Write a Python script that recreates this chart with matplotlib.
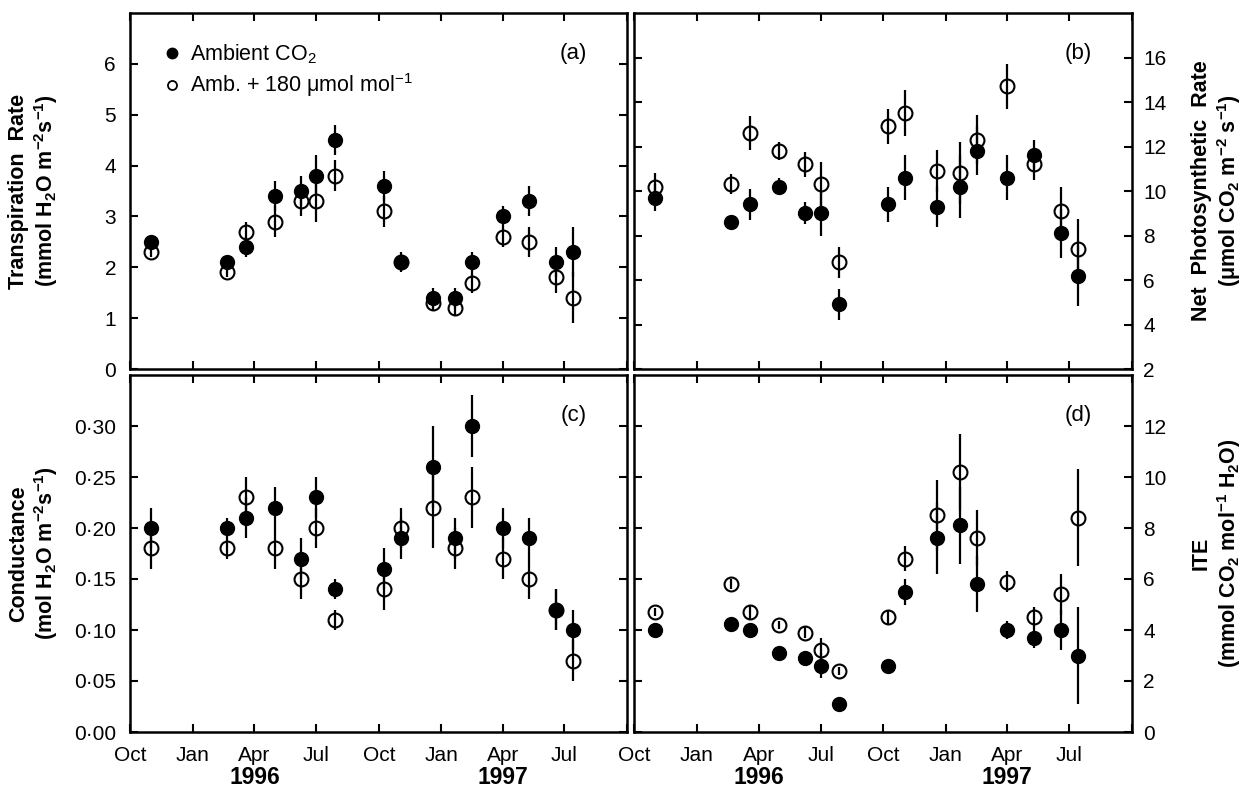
import matplotlib
matplotlib.use('Agg')
import matplotlib.pyplot as plt
import matplotlib.dates as mdates
from matplotlib.lines import Line2D
from matplotlib.ticker import FuncFormatter
import numpy as np

plt.rcParams['font.family'] = ['Liberation Sans', 'DejaVu Sans']
plt.rcParams['mathtext.default'] = 'regular'

# sampling dates (Oct 1995 - Jul 1997)
dates = ['1995-11-01', '1996-02-20', '1996-03-20', '1996-05-01', '1996-06-08',
         '1996-07-01', '1996-07-28', '1996-10-08', '1996-11-02', '1996-12-19',
         '1997-01-21', '1997-02-15', '1997-04-01', '1997-05-10', '1997-06-19',
         '1997-07-14']

# (a) transpiration rate
trans_amb = [2.5, 2.1, 2.4, 3.4, 3.5, 3.8, 4.5, 3.6, 2.1, 1.4, 1.4, 2.1, 3.0, 3.3, 2.1, 2.3]
trans_amb_err = [0.05, 0.1, 0.2, 0.3, 0.3, 0.4, 0.3, 0.3, 0.2, 0.2, 0.2, 0.2, 0.2, 0.3, 0.3, 0.5]
trans_elev = [2.3, 1.9, 2.7, 2.9, 3.3, 3.3, 3.8, 3.1, 2.1, 1.3, 1.2, 1.7, 2.6, 2.5, 1.8, 1.4]
trans_elev_err = [0.1, 0.1, 0.2, 0.3, 0.3, 0.4, 0.3, 0.3, 0.1, 0.15, 0.15, 0.2, 0.2, 0.3, 0.3, 0.5]

# (b) net photosynthetic rate
photo_amb = [9.7, 8.6, 9.4, 10.2, 9.0, 9.0, 4.9, 9.4, 10.6, 9.3, 10.2, 11.8, 10.6, 11.6, 8.1, 6.2]
photo_amb_err = [0.6, 0.3, 0.7, 0.4, 0.5, 1.0, 0.7, 0.8, 1.0, 0.9, 1.4, 1.1, 1.0, 0.7, 1.1, 1.35]
photo_elev = [10.2, 10.3, 12.6, 11.8, 11.2, 10.3, 6.8, 12.9, 13.5, 10.9, 10.8, 12.3, 14.7, 11.2, 9.1, 7.4]
photo_elev_err = [0.6, 0.45, 0.75, 0.4, 0.55, 1.0, 0.7, 0.8, 1.05, 0.95, 1.4, 1.1, 1.0, 0.7, 1.1, 1.35]

# (c) conductance
cond_amb = [0.20, 0.20, 0.21, 0.22, 0.17, 0.23, 0.14, 0.16, 0.19, 0.26, 0.19, 0.30, 0.20, 0.19, 0.12, 0.10]
cond_amb_err = [0.02, 0.01, 0.02, 0.02, 0.02, 0.02, 0.01, 0.02, 0.02, 0.04, 0.02, 0.03, 0.02, 0.02, 0.02, 0.02]
cond_elev = [0.18, 0.18, 0.23, 0.18, 0.15, 0.20, 0.11, 0.14, 0.20, 0.22, 0.18, 0.23, 0.17, 0.15, 0.12, 0.07]
cond_elev_err = [0.02, 0.01, 0.02, 0.02, 0.02, 0.02, 0.01, 0.02, 0.02, 0.04, 0.02, 0.03, 0.02, 0.02, 0.02, 0.02]

# (d) instantaneous transpiration efficiency
ite_amb = [4.0, 4.25, 4.0, 3.1, 2.9, 2.6, 1.1, 2.6, 5.5, 7.6, 8.1, 5.8, 4.0, 3.7, 4.0, 3.0]
ite_amb_err = [0.1, 0.2, 0.2, 0.1, 0.2, 0.5, 0.1, 0.2, 0.5, 1.4, 1.5, 1.1, 0.35, 0.4, 0.8, 1.9]
ite_elev = [4.7, 5.8, 4.7, 4.2, 3.9, 3.2, 2.4, 4.5, 6.8, 8.5, 10.2, 7.6, 5.9, 4.5, 5.4, 8.4]
ite_elev_err = [0.15, 0.2, 0.3, 0.15, 0.2, 0.5, 0.15, 0.3, 0.5, 1.4, 1.5, 1.1, 0.4, 0.4, 0.8, 1.9]

month_labels = ['Oct', 'Jan', 'Apr', 'Jul']
years = ['1996', '1997']

x = np.array(dates, dtype='datetime64[D]').astype('O')
x = mdates.date2num(x)
tick_dates = mdates.date2num(np.arange(np.datetime64('1995-10'), np.datetime64('1997-11'), 3)
                             .astype('datetime64[D]').astype('O'))
xmin, xmax = tick_dates[0], tick_dates[-1]

fig = plt.figure(figsize=(12.54, 7.9), dpi=100)
W, H = 1254, 790
ax_a = fig.add_axes([130 / W, 1 - 369 / H, 497 / W, 356 / H])
ax_b = fig.add_axes([634 / W, 1 - 369 / H, 498 / W, 356 / H])
ax_c = fig.add_axes([130 / W, 1 - 732 / H, 497 / W, 357 / H])
ax_d = fig.add_axes([634 / W, 1 - 732 / H, 498 / W, 357 / H])

label_font = ['Liberation Sans Narrow', 'Liberation Sans', 'DejaVu Sans']
TICK = 15


def draw(ax, amb, amb_err, elev, elev_err):
    ax.errorbar(x, elev, yerr=elev_err, fmt='o', mfc='none', mec='black', mew=1.5,
                ms=10, ecolor='black', elinewidth=1.6, capsize=0)
    ax.errorbar(x, amb, yerr=amb_err, fmt='o', mfc='black', mec='black',
                ms=10, ecolor='black', elinewidth=1.6, capsize=0)
    ax.set_xlim(xmin, xmax)
    ax.set_xticks(tick_dates)
    for s in ax.spines.values():
        s.set_linewidth(1.8)
    ax.tick_params(direction='in', length=6, width=1.5, top=True, bottom=True,
                   left=True, right=True, labelsize=TICK)
    ax.tick_params(axis='x', pad=10)
    ax.tick_params(axis='y', pad=10)


draw(ax_a, trans_amb, trans_amb_err, trans_elev, trans_elev_err)
draw(ax_b, photo_amb, photo_amb_err, photo_elev, photo_elev_err)
draw(ax_c, cond_amb, cond_amb_err, cond_elev, cond_elev_err)
draw(ax_d, ite_amb, ite_amb_err, ite_elev, ite_elev_err)

# y axes
ax_a.set_ylim(0, 7)
ax_a.set_yticks(range(0, 7))
ax_b.set_ylim(2, 18)
ax_b.set_yticks(range(2, 17, 2))
ax_c.set_ylim(0, 0.35)
ax_c.set_yticks(np.arange(0, 0.31, 0.05))
ax_c.yaxis.set_major_formatter(FuncFormatter(lambda v, p: f'{v:.2f}'.replace('.', '·')))
ax_d.set_ylim(0, 14)
ax_d.set_yticks(range(0, 13, 2))

for ax in (ax_b, ax_d):
    ax.tick_params(axis='y', labelleft=False, labelright=True, pad=8)
    ax.yaxis.set_label_position('right')

# x tick labels
for ax in (ax_a, ax_b):
    ax.tick_params(labelbottom=False)
lab = [month_labels[i % 4] for i in range(len(tick_dates))]
ax_c.set_xticklabels(lab[:-1] + [''])
ax_d.set_xticklabels(lab[:-1] + [''])

for ax in (ax_c, ax_d):
    for yr in years:
        xp = mdates.date2num(np.datetime64(yr + '-04-01').astype('O'))
        ax.text(xp, -0.128, yr, transform=ax.get_xaxis_transform(), ha='center',
                va='center', fontsize=16.5, fontweight='bold')

# axis labels
ylab = dict(fontsize=15.5, fontweight='bold', family=label_font, linespacing=1.15)
ax_a.set_ylabel('Transpiration  Rate\n(mmol H$_2$O m$^{-2}$s$^{-1}$)', **ylab)
ax_c.set_ylabel('Conductance\n(mol H$_2$O m$^{-2}$s$^{-1}$)', **ylab)
ax_b.set_ylabel('Net  Photosynthetic  Rate\n(μmol CO$_2$ m$^{-2}$ s$^{-1}$)', rotation=90, **ylab)
ax_d.set_ylabel('ITE\n(mmol CO$_2$ mol$^{-1}$ H$_2$O)', rotation=90, **ylab)
for ax in (ax_a, ax_c):
    ax.yaxis.set_label_coords(-0.14, 0.5)
for ax in (ax_b, ax_d):
    ax.yaxis.set_label_coords(1.118, 0.5)

# panel letters
for ax, t in ((ax_a, '(a)'), (ax_b, '(b)'), (ax_c, '(c)'), (ax_d, '(d)')):
    ax.text(0.892, 0.886, t, transform=ax.transAxes, ha='center', va='center', fontsize=16)

# legend
handles = [Line2D([], [], ls='none', marker='o', ms=7.5, mfc='black', mec='black'),
           Line2D([], [], ls='none', marker='o', ms=6.5, mfc='none', mec='black', mew=1.3)]
ax_a.legend(handles, ['Ambient CO$_2$', 'Amb. + 180 μmol mol$^{-1}$'], loc='upper left',
            bbox_to_anchor=(0.062, 0.918), frameon=False, fontsize=15.5, handletextpad=0.35,
            handlelength=1.0, borderaxespad=0, borderpad=0, labelspacing=0.25)

fig.savefig('out.png', dpi=100)
